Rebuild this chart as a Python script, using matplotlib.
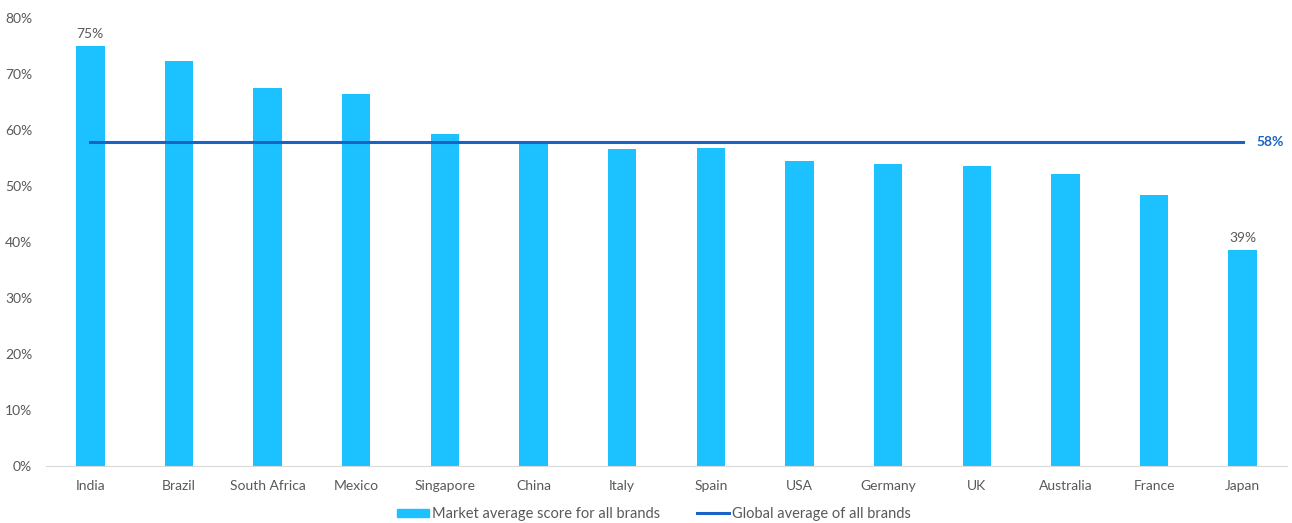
import matplotlib
matplotlib.use("Agg")
import matplotlib.pyplot as plt
from matplotlib.patches import Patch
from matplotlib.lines import Line2D
import numpy as np

countries = ["India", "Brazil", "South Africa", "Mexico", "Singapore", "China", "Italy",
             "Spain", "USA", "Germany", "UK", "Australia", "France", "Japan"]
market_avg = [75.0, 72.3, 67.5, 66.4, 59.3, 57.7, 56.6, 56.8, 54.5, 53.9, 53.6, 52.1, 48.4, 38.6]
global_avg = 57.8
yticks = [0, 10, 20, 30, 40, 50, 60, 70, 80]

plt.rcParams['font.family'] = ['Lato', 'DejaVu Sans']
text_color = "#595959"
bar_color = "#1CC2FF"
line_color = "#1A63C4"

fig = plt.figure(figsize=(12.92, 5.23), dpi=100)
ax = fig.add_axes([46/1292, 1 - 466/523, (1287-46)/1292, (466-18)/523])

x = np.arange(len(countries))
ax.bar(x, market_avg, width=0.32, color=bar_color, zorder=2)
ax.plot([x[0], x[-1]], [global_avg, global_avg], color=line_color, lw=2.2, zorder=3)
ax.text(x[-1] + 0.15, global_avg, f"{global_avg:.0f}%", color=line_color, fontsize=10,
        fontweight='bold', va='center', ha='left')

for i in (0, len(countries) - 1):
    ax.text(x[i], market_avg[i] + 1.0, f"{market_avg[i]:.0f}%", ha='center', va='bottom',
            fontsize=10, color=text_color)

ax.set_xlim(-0.5, len(countries) - 0.5)
ax.set_ylim(0, 80)
ax.set_yticks(yticks)
ax.set_yticklabels([f"{v}%" for v in yticks])
ax.set_xticks(x)
ax.set_xticklabels(countries)
ax.tick_params(axis='both', length=0, labelsize=10, labelcolor=text_color)
ax.tick_params(axis='y', pad=10)
ax.tick_params(axis='x', pad=10)
for s in ['top', 'right', 'left']:
    ax.spines[s].set_visible(False)
ax.spines['bottom'].set_color("#D9D9D9")

handles = [Patch(color=bar_color), Line2D([0], [0], color=line_color, lw=2.2)]
labels = ["Market average score for all brands", "Global average of all brands"]
fig.legend(handles, labels, loc='center', bbox_to_anchor=(654/1292, 1 - 514/523), ncol=2,
           frameon=False, fontsize=10.5, labelcolor=text_color, handlelength=2.2,
           handletextpad=0.2, columnspacing=2.5, handleheight=0.5)

fig.savefig("out.png", dpi=100)
